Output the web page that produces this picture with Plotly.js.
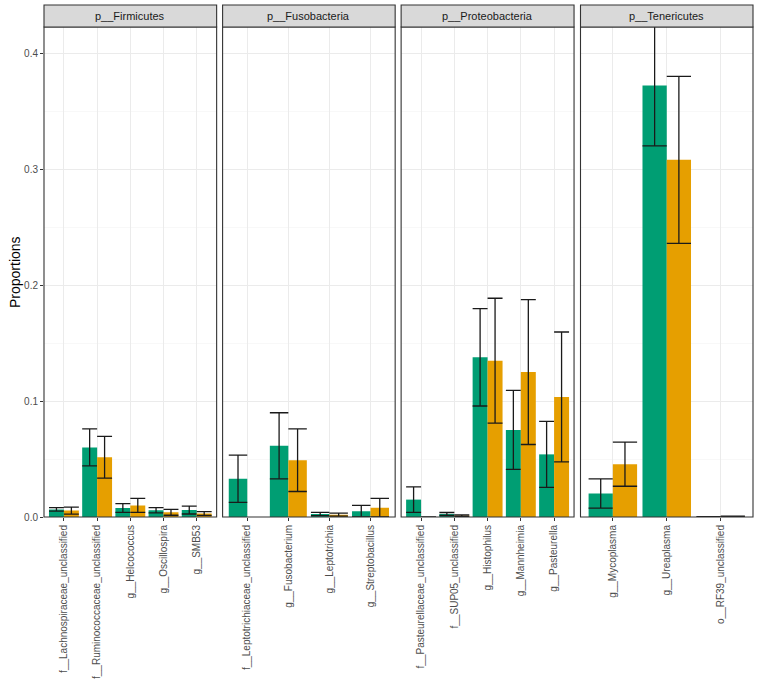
<!DOCTYPE html>
<html><head><meta charset="utf-8">
<script src="https://cdn.plot.ly/plotly-3.0.1.min.js"></script>
<style>html,body{margin:0;padding:0;background:#fff}#chart{width:758px;height:687px}</style>
</head><body><div id="chart"></div>
<script>
// ---- data ----
const phyla = ['p__Firmicutes', 'p__Fusobacteria', 'p__Proteobacteria', 'p__Tenericutes'];

const firmicutesTaxa = ['f__Lachnospiraceae_unclassified', 'f__Ruminococcaceae_unclassified', 'g__Helcococcus', 'g__Oscillospira', 'g__SMB53'];
const firmicutesG1 = [0.0065, 0.060, 0.0078, 0.0058, 0.006];
const firmicutesG1Err = [0.0015, 0.016, 0.0038, 0.0022, 0.0034];
const firmicutesG2 = [0.0055, 0.0515, 0.0100, 0.0040, 0.0030];
const firmicutesG2Err = [0.0030, 0.0180, 0.0060, 0.0025, 0.0016];

const fusobacteriaTaxa = ['f__Leptotrichiaceae_unclassified', 'g__Fusobacterium', 'g__Leptotrichia', 'g__Streptobacillus'];
const fusobacteriaG1 = [0.0330, 0.0614, 0.0026, 0.0050];
const fusobacteriaG1Err = [0.0204, 0.0285, 0.0014, 0.0050];
const fusobacteriaG2 = [null, 0.0490, 0.0020, 0.0080];
const fusobacteriaG2Err = [null, 0.0270, 0.0013, 0.0080];

const proteobacteriaTaxa = ['f__Pasteurellaceae_unclassified', 'f__SUP05_unclassified', 'g__Histophilus', 'g__Mannheimia', 'g__Pasteurella'];
const proteobacteriaG1 = [0.0150, 0.0026, 0.1377, 0.0751, 0.0540];
const proteobacteriaG1Err = [0.0110, 0.0013, 0.0420, 0.0340, 0.0284];
const proteobacteriaG2 = [0.0, 0.0012, 0.1348, 0.1250, 0.1035];
const proteobacteriaG2Err = [0.0, 0.0006, 0.0538, 0.0625, 0.0560];

const tenericutesTaxa = ['g__Mycoplasma', 'g__Ureaplasma', 'o__RF39_unclassified'];
const tenericutesG1 = [0.0203, 0.372, 0.0002];
const tenericutesG1Err = [0.0126, 0.052, 0.0002];
const tenericutesG2 = [0.0455, 0.308, 0.0004];
const tenericutesG2Err = [0.0190, 0.072, 0.0003];

const groupNames = ['Group 1', 'Group 2'];
const groupColors = ['#009E73', '#E69F00'];

// ---- build ----
const panels = [
  {phylum: phyla[0], taxa: firmicutesTaxa, g1: firmicutesG1, e1: firmicutesG1Err, g2: firmicutesG2, e2: firmicutesG2Err},
  {phylum: phyla[1], taxa: fusobacteriaTaxa, g1: fusobacteriaG1, e1: fusobacteriaG1Err, g2: fusobacteriaG2, e2: fusobacteriaG2Err},
  {phylum: phyla[2], taxa: proteobacteriaTaxa, g1: proteobacteriaG1, e1: proteobacteriaG1Err, g2: proteobacteriaG2, e2: proteobacteriaG2Err},
  {phylum: phyla[3], taxa: tenericutesTaxa, g1: tenericutesG1, e1: tenericutesG1Err, g2: tenericutesG2, e2: tenericutesG2Err}
];
const domains = [[0, 0.2435], [0.2519, 0.4953], [0.5037, 0.7476], [0.7567, 1]];
const W = 758, H = 687;
const margin = {l: 44, r: 5, t: 27, b: 170};
const plotW = W - margin.l - margin.r;
const stripTop = 1 + 22 / (H - margin.t - margin.b);
const yMax = 0.4225;

const traces = [];
const layout = {
  width: W, height: H, margin: margin,
  paper_bgcolor: '#fff', plot_bgcolor: '#fff',
  showlegend: false, barmode: 'group', bargap: 0.1, bargroupgap: 0,
  font: {family: 'Liberation Sans, Arial, sans-serif', color: '#4D4D4D'},
  shapes: [], annotations: []
};

panels.forEach((p, i) => {
  const sfx = i === 0 ? '' : String(i + 1);
  const xa = 'x' + sfx, ya = 'y' + sfx;
  const n = p.taxa.length;
  const pxPerUnit = (domains[i][1] - domains[i][0]) * plotW / (n + 0.2);
  const capHalf = 0.45 * pxPerUnit / 2;
  [[p.g1, p.e1], [p.g2, p.e2]].forEach((d, k) => {
    traces.push({
      type: 'bar', x: p.taxa, y: d[0], name: groupNames[k], xaxis: xa, yaxis: ya,
      marker: {color: groupColors[k], line: {width: 0}},
      error_y: {type: 'data', array: d[1], visible: true, color: '#1a1a1a', thickness: 1.3, width: capHalf},
      hoverinfo: 'x+y'
    });
  });
  layout['xaxis' + sfx] = {
    domain: domains[i], anchor: ya, type: 'category', range: [-0.6, n - 0.4],
    tickangle: -90, ticks: 'outside', ticklen: 3, tickcolor: '#333', tickwidth: 1,
    showgrid: true, gridcolor: '#EBEBEB', gridwidth: 1, zeroline: false, showline: false,
    tickfont: {size: 10, color: '#4D4D4D'}, fixedrange: true
  };
  const yax = {
    domain: [0, 1], anchor: xa, range: [0, yMax], tickvals: [0, 0.1, 0.2, 0.3, 0.4],
    tickformat: '.1f', showgrid: true, gridcolor: '#EBEBEB', gridwidth: 1, zeroline: false,
    showline: false, tickfont: {size: 10, color: '#4D4D4D'},
    minor: {tickvals: [0.05, 0.15, 0.25, 0.35], showgrid: true, gridcolor: '#F3F3F3', gridwidth: 0.6, ticks: ''},
    fixedrange: true
  };
  if (i === 0) {
    yax.ticks = 'outside'; yax.ticklen = 3; yax.tickcolor = '#333';
  } else {
    yax.matches = 'y'; yax.showticklabels = false; yax.ticks = '';
  }
  layout['yaxis' + sfx] = yax;
  layout.shapes.push({type: 'rect', xref: xa + ' domain', yref: ya + ' domain', x0: 0, x1: 1, y0: 0, y1: 1,
    line: {color: '#333', width: 1.1}, fillcolor: 'rgba(0,0,0,0)', layer: 'above'});
  layout.shapes.push({type: 'rect', xref: xa + ' domain', yref: 'paper', x0: 0, x1: 1, y0: 1, y1: stripTop,
    line: {color: '#333', width: 1.1}, fillcolor: '#D9D9D9', layer: 'above'});
  layout.annotations.push({text: p.phylum, xref: xa + ' domain', yref: 'paper', x: 0.5, y: (1 + stripTop) / 2,
    xanchor: 'center', yanchor: 'middle', showarrow: false, font: {size: 11, color: '#1A1A1A'}});
});
layout.annotations.push({text: 'Proportions', xref: 'paper', yref: 'paper', x: 0, y: 0.5, xshift: -29,
  textangle: -90, xanchor: 'center', yanchor: 'middle', showarrow: false, font: {size: 14, color: '#000'}});

Plotly.newPlot('chart', traces, layout, {displayModeBar: false, staticPlot: true});
</script>
</body></html>
